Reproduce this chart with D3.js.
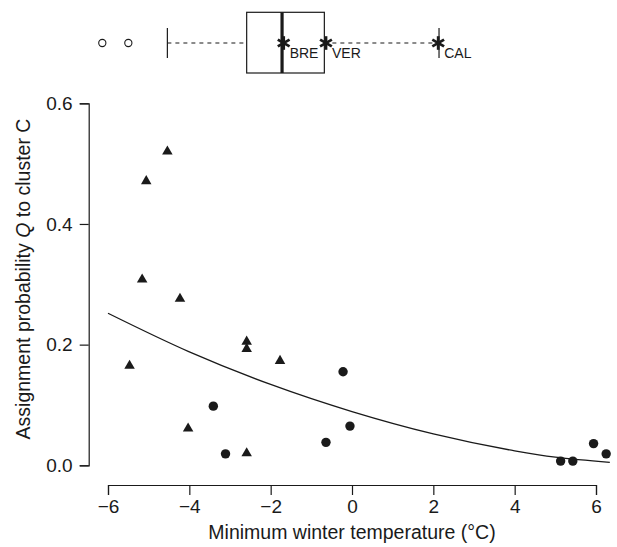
<!DOCTYPE html>
<html>
<head>
<meta charset="utf-8">
<script src="https://cdn.jsdelivr.net/npm/d3@7"></script>
<style>
  html, body { margin: 0; padding: 0; background: #fff; }
  svg { display: block; font-family: "Liberation Sans", Arial, Helvetica, sans-serif; }
</style>
</head>
<body>
<svg id="chart" width="617" height="547"></svg>
<script>
// ---- data ----
const xTicks = [-6, -4, -2, 0, 2, 4, 6];
const yTicks = [0.0, 0.2, 0.4, 0.6];

// triangles
const triX = [-4.54, -5.06, -5.16, -4.23, -2.59, -2.59, -1.77, -5.47, -4.03, -2.59];
const triY = [0.520, 0.471, 0.308, 0.276, 0.205, 0.193, 0.173, 0.165, 0.061, 0.020];

// circles
const circX = [-0.22, -0.05, -0.64, -3.41, -3.11, 5.13, 5.43, 5.94, 6.25];
const circY = [0.155, 0.065, 0.038, 0.098, 0.019, 0.007, 0.007, 0.036, 0.019];

// fitted curve
const fitX = [-6.0, -4.0, -2.0, 0.0, 2.0, 4.0, 5.0, 6.34];
const fitY = [0.252, 0.188, 0.134, 0.089, 0.052, 0.024, 0.0135, 0.005];

// boxplot of temperatures
const boxStats = { lowWhisker: -4.54, q1: -2.59, median: -1.72, q3: -0.68, highWhisker: 2.14 };
const boxOutliers = [-6.14, -5.50];
const starLabels = ["BRE", "VER", "CAL"];
const starX = [-1.68, -0.64, 2.12];

// ---- drawing ----
const svg = d3.select("#chart");
const ink = "#1a1a1a";

const x = d3.scaleLinear().domain([-6, 6]).range([108, 596]);
const y = d3.scaleLinear().domain([0, 0.6]).range([465.3, 103.3]);

// axes
const xAxis = d3.axisBottom(x).tickValues(xTicks).tickSize(10).tickPadding(5)
  .tickFormat(d3.format("d"));
const gx = svg.append("g").attr("transform", "translate(0,485)").call(xAxis);
gx.select(".domain").attr("stroke", ink).attr("stroke-width", 1.2);
gx.selectAll(".tick line").attr("stroke", ink).attr("stroke-width", 1.2);
gx.selectAll(".tick text").attr("font-size", 19).attr("fill", ink)
  .attr("font-family", "Liberation Sans, Arial, sans-serif");

const yAxis = d3.axisLeft(y).tickValues(yTicks).tickSize(9).tickPadding(7)
  .tickFormat(d3.format(".1f"));
const gy = svg.append("g").attr("transform", "translate(88.7,0)").call(yAxis);
gy.select(".domain").attr("stroke", ink).attr("stroke-width", 1.2);
gy.selectAll(".tick line").attr("stroke", ink).attr("stroke-width", 1.2);
gy.selectAll(".tick text").attr("font-size", 19).attr("fill", ink)
  .attr("font-family", "Liberation Sans, Arial, sans-serif");

// axis titles
svg.append("text")
  .attr("x", 352).attr("y", 539)
  .attr("text-anchor", "middle")
  .attr("font-size", 19.5).attr("fill", ink)
  .text("Minimum winter temperature (°C)");

const yt = svg.append("text")
  .attr("transform", "translate(29.5,279) rotate(-90)")
  .attr("text-anchor", "middle")
  .attr("font-size", 19.5).attr("fill", ink);
yt.append("tspan").text("Assignment probability ");
yt.append("tspan").attr("font-style", "italic").text("Q");
yt.append("tspan").text(" to cluster C");

// fitted curve
const fitData = fitX.map((v, i) => [v, fitY[i]]);
svg.append("path")
  .datum(fitData)
  .attr("fill", "none")
  .attr("stroke", ink)
  .attr("stroke-width", 1.3)
  .attr("d", d3.line().x(d => x(d[0])).y(d => y(d[1])).curve(d3.curveMonotoneX));

// triangles
svg.selectAll(".tri")
  .data(triX.map((v, i) => [v, triY[i]]))
  .enter().append("path")
  .attr("class", "tri")
  .attr("transform", d => `translate(${x(d[0])},${y(d[1])})`)
  .attr("d", d3.symbol().type(d3.symbolTriangle).size(48))
  .attr("fill", ink);

// circles
svg.selectAll(".circ")
  .data(circX.map((v, i) => [v, circY[i]]))
  .enter().append("circle")
  .attr("class", "circ")
  .attr("cx", d => x(d[0])).attr("cy", d => y(d[1]))
  .attr("r", 4.7)
  .attr("fill", ink);

// ---- boxplot on top ----
const bc = 43, bTop = 12.3, bBot = 73, capH = 15;
const gb = svg.append("g");
gb.append("line")
  .attr("x1", x(boxStats.lowWhisker)).attr("x2", x(boxStats.q1))
  .attr("y1", bc).attr("y2", bc)
  .attr("stroke", "#666").attr("stroke-width", 1.3).attr("stroke-dasharray", "4,4");
gb.append("line")
  .attr("x1", x(boxStats.q3)).attr("x2", x(boxStats.highWhisker))
  .attr("y1", bc).attr("y2", bc)
  .attr("stroke", "#666").attr("stroke-width", 1.3).attr("stroke-dasharray", "4,4");
[boxStats.lowWhisker, boxStats.highWhisker].forEach(v => {
  gb.append("line")
    .attr("x1", x(v)).attr("x2", x(v))
    .attr("y1", bc - capH).attr("y2", bc + capH)
    .attr("stroke", ink).attr("stroke-width", 1.2);
});
gb.append("rect")
  .attr("x", x(boxStats.q1)).attr("y", bTop)
  .attr("width", x(boxStats.q3) - x(boxStats.q1)).attr("height", bBot - bTop)
  .attr("fill", "none").attr("stroke", ink).attr("stroke-width", 1.2);
gb.append("line")
  .attr("x1", x(boxStats.median)).attr("x2", x(boxStats.median))
  .attr("y1", bTop).attr("y2", bBot)
  .attr("stroke", ink).attr("stroke-width", 3.2);
gb.selectAll(".out").data(boxOutliers).enter().append("circle")
  .attr("cx", d => x(d)).attr("cy", bc).attr("r", 3.6)
  .attr("fill", "none").attr("stroke", ink).attr("stroke-width", 1.1);
const starArm = 6.8;
starX.forEach((v, i) => {
  const g = gb.append("g").attr("transform", `translate(${x(v)},${bc})`);
  [90, 30, 150].forEach(a => {
    const r = a * Math.PI / 180;
    g.append("line")
      .attr("x1", -starArm * Math.cos(r)).attr("y1", -starArm * Math.sin(r))
      .attr("x2", starArm * Math.cos(r)).attr("y2", starArm * Math.sin(r))
      .attr("stroke", ink).attr("stroke-width", 2.8).attr("stroke-linecap", "butt");
  });
  gb.append("text")
    .attr("x", x(v) + 6).attr("y", 58.3)
    .attr("font-size", 14).attr("fill", ink)
    .text(starLabels[i]);
});
</script>
</body>
</html>
